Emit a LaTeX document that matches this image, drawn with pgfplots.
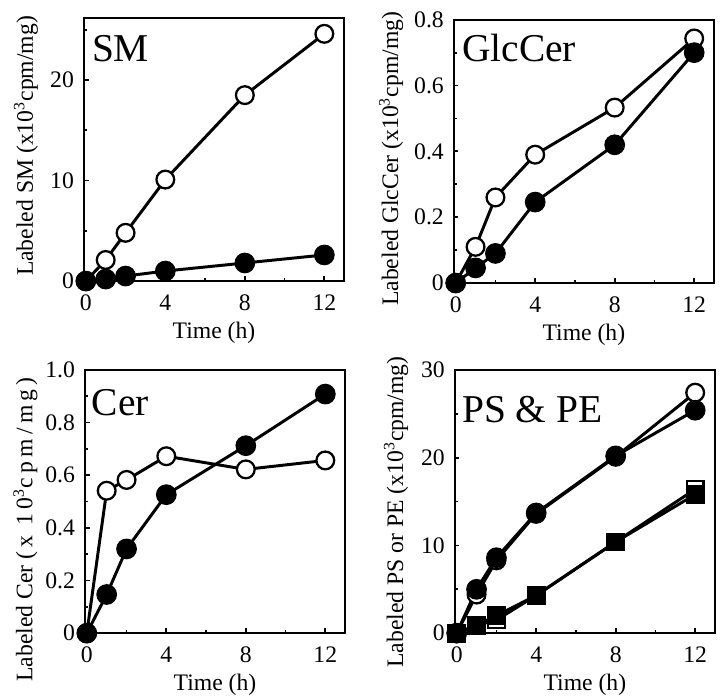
\documentclass[border=0pt]{standalone}
\usepackage{pgfplots}
\pgfplotsset{compat=1.18}
\usepackage{fontspec}
\setmainfont{Liberation Serif}
\newfontfamily\spaced[LetterSpace=18]{Liberation Serif}
\begin{document}
\pgfplotsset{
  panel/.style={
    width=132pt, height=133.5pt, scale only axis,
    xmin=-0.1, xmax=13,
    xtick={0,4,8,12}, minor xtick={2,6,10},
    tick pos=left, tick align=inside,
    major tick length=2.4pt, minor tick length=1.8pt,
    axis line style={line width=1.1pt},
    every tick/.style={line width=0.9pt, black},
    /pgf/number format/assume math mode=true,
    ticklabel style={font=\fontsize{12}{13}\selectfont},
    xticklabel style={yshift=-3.3pt},
    yticklabel style={xshift=-1.5pt},
    label style={font=\fontsize{12}{13}\selectfont},
    xlabel={Time (h)},
    xlabel style={yshift=1pt},
    clip=false,
  },
  opn/.style={black, line width=1.5pt, mark=*, mark size=4.5pt, mark options={fill=white, line width=1.15pt}},
  fil/.style={black, line width=1.5pt, mark=*, mark size=5pt, mark options={fill=black, line width=0.5pt}},
  opsq/.style={black, line width=1.5pt, mark=square*, mark size=4.2pt, mark options={fill=white, line width=1.1pt}},
  filsq/.style={black, line width=1.5pt, mark=square*, mark size=4.5pt, mark options={fill=black, line width=0.5pt}},
}
\tikzset{ttl/.style={anchor=base west, inner sep=0pt, font=\fontsize{20}{22}\selectfont}}
\begin{tikzpicture}
\useasboundingbox (0,0) rectangle (360pt,352.5pt);
% SM
\begin{axis}[panel, at={(37.5pt,210pt)}, anchor=south west,
  ymin=0, ymax=26.2, ytick={0,10,20}, minor ytick={5,15,25},
  ylabel={Labeled SM (x10\textsuperscript{3}cpm/mg)},
  ylabel style={at={(axis description cs:-0.222,0.513)}, anchor=center}]
\addplot[opn] coordinates {(0,0) (1,2.1) (2,4.8) (4,10.1) (8,18.5) (12,24.6)};
\addplot[fil] coordinates {(0,0) (1,0.2) (2,0.5) (4,1.0) (8,1.8) (12,2.6)};
\node[ttl] at (rel axis cs:0.03,0.835) {SM};
\end{axis}
% GlcCer
\begin{axis}[panel, at={(225pt,209pt)}, anchor=south west,
  ymin=0, ymax=0.8, ytick={0,0.2,0.4,0.6,0.8}, yticklabels={0,0.2,0.4,0.6,0.8},
  minor ytick={0.1,0.3,0.5,0.7},
  ylabel={Labeled GlcCer (x10\textsuperscript{3}cpm/mg)},
  ylabel style={at={(axis description cs:-0.24,0.472)}, anchor=center}]
\addplot[opn] coordinates {(0,0) (1,0.11) (2,0.26) (4,0.39) (8,0.533) (12,0.743)};
\addplot[fil] coordinates {(0,0) (1,0.046) (2,0.09) (4,0.246) (8,0.42) (12,0.70)};
\node[ttl] at (rel axis cs:0.031,0.843) {GlcCer};
\end{axis}
% Cer
\begin{axis}[panel, at={(38pt,31.5pt)}, anchor=south west,
  ymin=0, ymax=1.0, ytick={0,0.2,0.4,0.6,0.8,1.0}, yticklabels={0,0.2,0.4,0.6,0.8,1.0},
  minor ytick={0.1,0.3,0.5,0.7,0.9},
  ylabel={Labeled Cer {\spaced(x 10\textsuperscript{3}cpm/mg)}},
  ylabel style={at={(axis description cs:-0.228,0.394)}, anchor=center}]
\addplot[opn] coordinates {(0,0) (1,0.541) (2,0.582) (4,0.672) (8,0.622) (12,0.656)};
\addplot[fil] coordinates {(0,0) (1,0.147) (2,0.32) (4,0.526) (8,0.712) (12,0.908)};
\node[ttl] at (rel axis cs:0.026,0.827) {Cer};
\end{axis}
% PS & PE
\begin{axis}[panel, at={(225.5pt,31.5pt)}, anchor=south west,
  ymin=0, ymax=30, ytick={0,10,20,30}, minor ytick={5,15,25},
  ylabel={Labeled PS or PE (x10\textsuperscript{3}cpm/mg)},
  ylabel style={at={(axis description cs:-0.225,0.46)}, anchor=center}]
\addplot[opn] coordinates {(0,0) (1,4.4) (2,8.3) (4,13.6) (8,20.1) (12,27.4)};
\addplot[fil] coordinates {(0,0) (1,5.0) (2,8.6) (4,13.7) (8,20.2) (12,25.4)};
\addplot[opsq] coordinates {(0,0) (1,0.9) (2,1.5) (4,4.3) (8,10.4) (12,16.4)};
\addplot[filsq] coordinates {(0,0) (1,0.9) (2,2.0) (4,4.3) (8,10.4) (12,15.8)};
\node[ttl] at (rel axis cs:0.027,0.80) {PS \& PE};
\end{axis}
\end{tikzpicture}
\end{document}
